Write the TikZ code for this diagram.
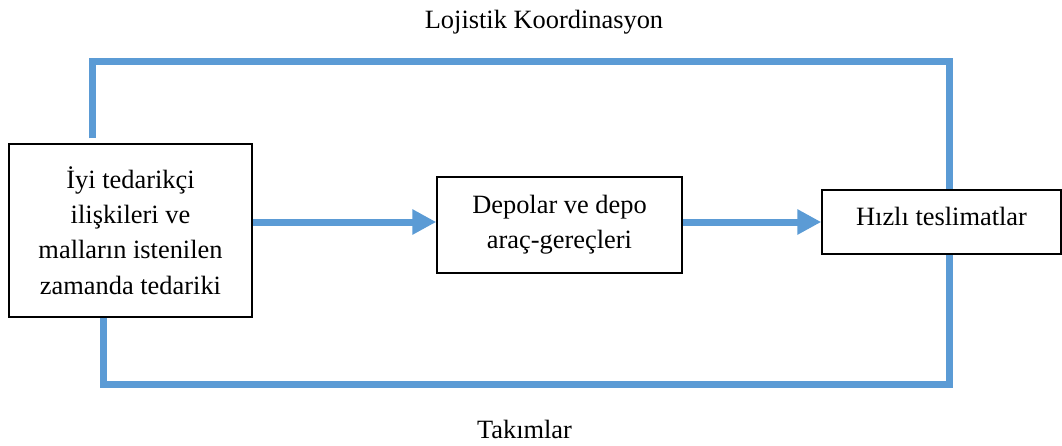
\documentclass[tikz,border=0pt]{standalone}
\usepackage{fontspec}
\setmainfont{Liberation Serif}
\usetikzlibrary{arrows.meta}
\definecolor{accent}{HTML}{5B9BD5}
\begin{document}
\begin{tikzpicture}[x=1pt,y=-1pt,
  box/.style={draw=black,line width=1.5pt,inner sep=0pt,align=center,
    font=\fontsize{26.4}{35.3}\selectfont},
  frame/.style={draw=accent,line width=7pt,line join=miter},
  flow/.style={draw=accent,line width=7pt,-{Triangle[length=24pt,width=24pt]}},
  lbl/.style={anchor=base,inner sep=0pt,font=\fontsize{26.4}{35.3}\selectfont}]
\useasboundingbox (0,0) rectangle (1062,445);
\node[box,minimum width=243pt,minimum height=173pt] (left) at (130.5,230.5)
  {İyi tedarikçi\\ilişkileri ve\\malların istenilen\\zamanda tedariki};
\node[box,minimum width=245pt,minimum height=96pt] (mid) at (559.5,225)
  {Depolar ve depo\\araç-gereçleri};
\node[box,minimum width=239pt,minimum height=64pt,text height=18pt,text depth=12pt] (hiz) at (941.5,222)
  {Hızlı teslimatlar};
\coordinate (tl) at (92,61);
\coordinate (tr) at (949,61);
\coordinate (bl) at (103,384);
\coordinate (br) at (949,384);
\draw[frame,shorten <=5pt] (left.north -| tl) -- (tl) -- (tr) -- (hiz.north -| tr);
\draw[frame] (left.south -| bl) -- (bl) -- (br) -- (hiz.south -| br);
\draw[flow] (left.east |- hiz.west) -- (mid.west |- hiz.west);
\draw[flow] (mid.east |- hiz.west) -- (hiz.west);
\node[lbl] (top) at (544,28) {Lojistik Koordinasyon};
\node[lbl] (bot) at (524.5,438) {Takımlar};
\end{tikzpicture}
\end{document}
